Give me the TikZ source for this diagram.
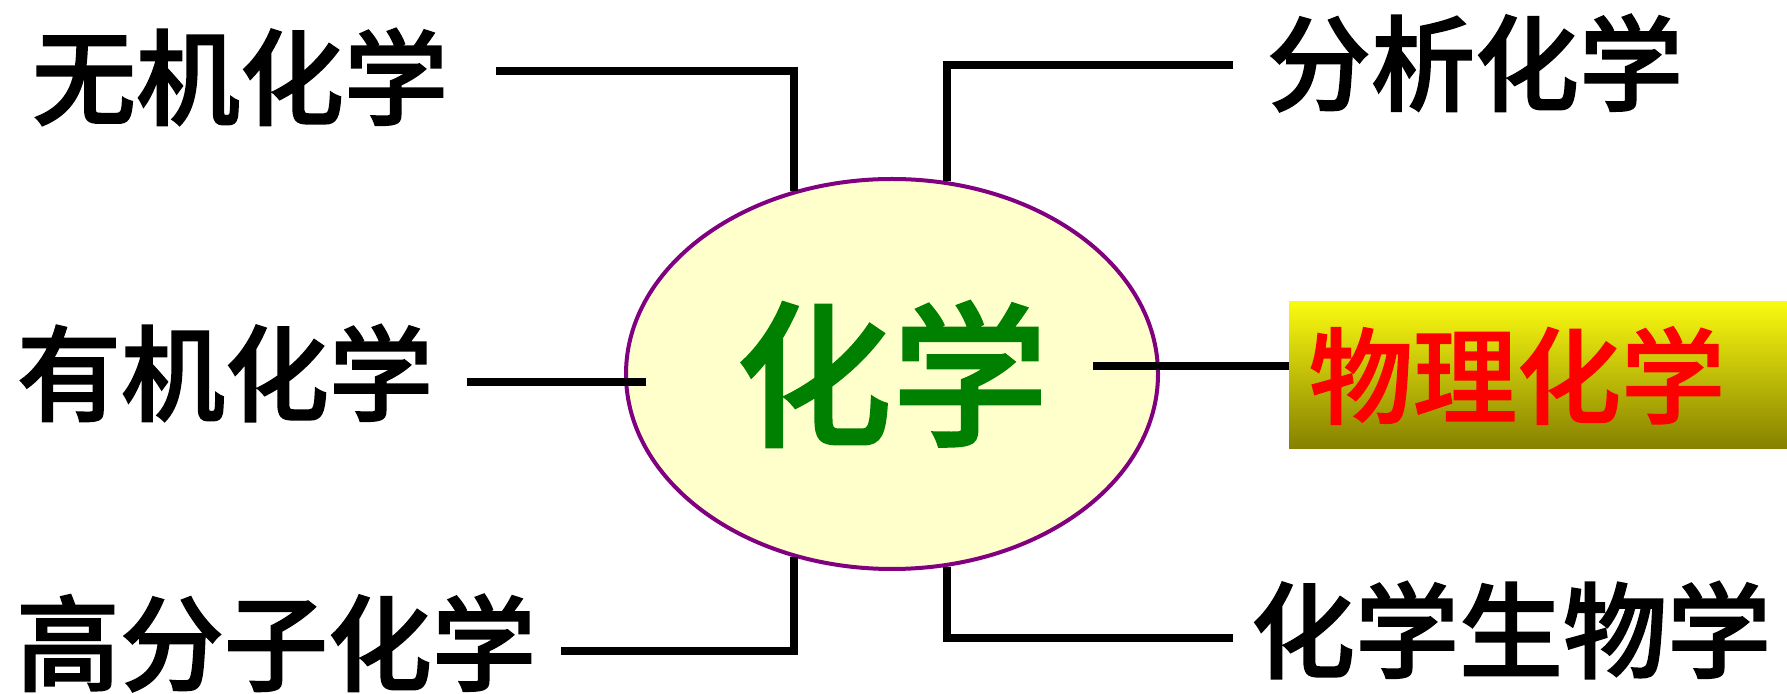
\documentclass[tikz,border=0pt]{standalone}
\usepackage{fontspec}
\usepackage{xcolor}
\usetikzlibrary{shapes.geometric,calc}
\newfontfamily\cjk{Noto Sans CJK SC}[BoldFont={Noto Sans CJK SC Medium}, BoldFeatures={FakeBold=1.5}]
\definecolor{ovalfill}{HTML}{FFFFCC}
\definecolor{ovalline}{HTML}{800080}
\definecolor{chemgreen}{HTML}{008000}
\definecolor{boxtop}{HTML}{FAFA10}
\definecolor{boxmid}{HTML}{D8D400}
\definecolor{boxbot}{HTML}{858000}

\begin{document}
\begin{tikzpicture}[x=0.5pt, y=-0.5pt,
    field/.style={inner sep=0pt, font=\cjk\bfseries\fontsize{52}{52}\selectfont},
    link/.style={line width=4pt}]
    \useasboundingbox (0,0) rectangle (1787,694);
    \node[ellipse, draw=ovalline, line width=2pt, fill=ovalfill, minimum width=266pt, minimum height=195pt, inner sep=0pt, text=chemgreen, font=\cjk\bfseries\fontsize{78}{78}\selectfont] (chem) at (892,374) {化学};
    \node[field] (wuji) at (240,77) {无机化学};
    \node[field] (youji) at (225,373) {有机化学};
    \node[field] (gaofenzi) at (276,643) {高分子化学};
    \node[field] (fenxi) at (1475,63) {分析化学};
    \node[field, text=red, top color=boxtop, middle color=boxmid, bottom color=boxbot, inner xsep=10pt, text width=229pt, align=left, minimum height=73.5pt] (wuli) at (1538,375.5) {物理化学};
    \node[field] (shengwu) at (1511,630) {化学生物学};
    % free ends next to the labels
    \coordinate (wuji-end) at (496,71);
    \coordinate (youji-end) at (467,382);
    \coordinate (gaofenzi-end) at (561,651);
    \coordinate (fenxi-end) at (1233,65);
    \coordinate (shengwu-end) at (1233,638);
    \draw[link] (wuji-end) -| (chem.118);
    \draw[link] (youji-end) -- ($(chem.west)+(22,8)$);
    \draw[link] (gaofenzi-end) -| (chem.242);
    \draw[link] (fenxi-end) -| (chem.74);
    \draw[link] (shengwu-end) -| (chem.286);
    \draw[link] ($(chem.east)+(-67,-8)$) -- ($(wuli.west)+(0,-9.5)$);
\end{tikzpicture}
\end{document}
